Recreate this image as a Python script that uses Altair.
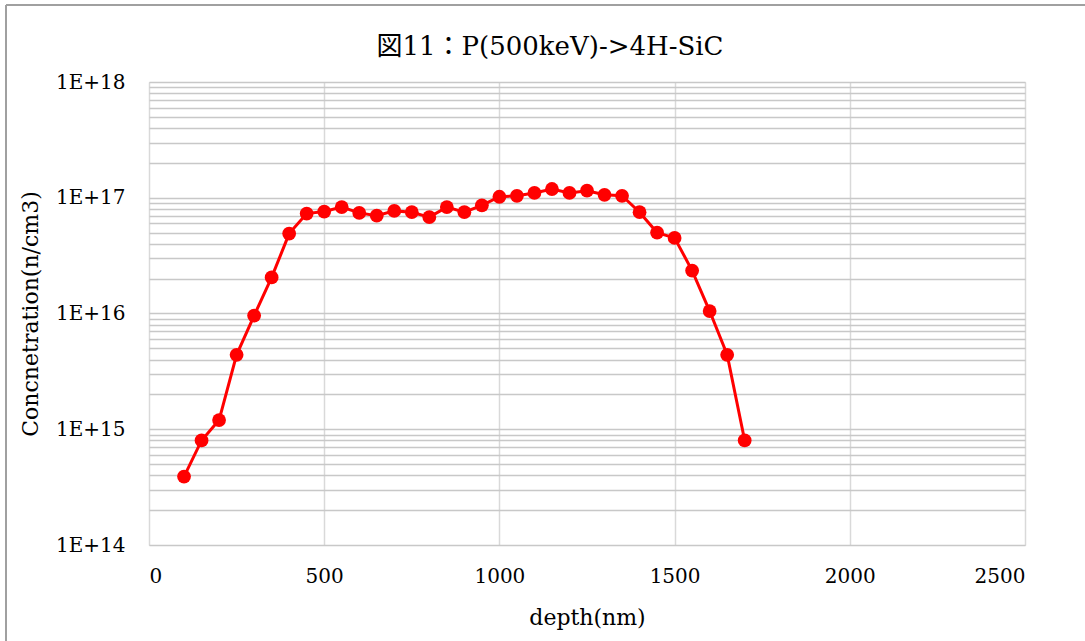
import altair as alt
import pandas as pd

# Implantation profile: P (500 keV) into 4H-SiC
depth_nm = [100, 150, 200, 250, 300, 350, 400, 450, 500, 550, 600, 650, 700,
            750, 800, 850, 900, 950, 1000, 1050, 1100, 1150, 1200, 1250, 1300,
            1350, 1400, 1450, 1500, 1550, 1600, 1650, 1700]
concentration = [3.9e14, 8.0e14, 1.2e15, 4.4e15, 9.6e15, 2.05e16, 4.9e16,
                 7.3e16, 7.6e16, 8.3e16, 7.4e16, 7.0e16, 7.7e16, 7.5e16,
                 6.8e16, 8.3e16, 7.5e16, 8.6e16, 1.02e17, 1.04e17, 1.1e17,
                 1.19e17, 1.1e17, 1.15e17, 1.06e17, 1.04e17, 7.5e16, 5.0e16,
                 4.5e16, 2.35e16, 1.05e16, 4.4e15, 8.0e14]

x_ticks = [0, 500, 1000, 1500, 2000, 2500]
decades = [14, 15, 16, 17, 18]
# 1..9 x 10^n gridlines for the log axis, labelled only at decades
y_grid = [m * 10.0 ** d for d in decades[:-1] for m in range(1, 10)] + [1e18]

title_text = "図11：P(500keV)->4H-SiC"

df = pd.DataFrame({"depth": depth_nm, "conc": concentration})

SERIF = "DejaVu Serif, Noto Sans CJK JP"
W, H = 876, 463
LEFT, TOP = 149, 82

x_enc = alt.X(
    "depth:Q",
    title="depth(nm)",
    scale=alt.Scale(domain=[0, 2500], nice=False),
    axis=alt.Axis(values=x_ticks, format="d", grid=True, gridColor="#d9d9d9",
                  gridWidth=1.5, ticks=False, domain=False,
                  labelFont=SERIF, labelFontSize=20, labelColor="#000",
                  labelPadding=21, titleFont=SERIF, titleFontSize=22,
                  titleFontWeight="normal", titleColor="#000",
                  titlePadding=21),
)
y_enc = alt.Y(
    "conc:Q",
    title="Concnetration(n/cm3)",
    scale=alt.Scale(type="log", domain=[1e14, 1e18], nice=False),
    axis=alt.Axis(values=y_grid, grid=True, gridColor="#c8c8c8",
                  gridWidth=1.5, ticks=False, domain=False,
                  labelExpr="abs(log(datum.value)/LN10 - round(log(datum.value)/LN10)) < 1e-6 ? '1E+' + round(log(datum.value)/LN10) : ''",
                  labelFont=SERIF, labelFontSize=20, labelColor="#000",
                  labelPadding=24, labelOverlap=False, titleFont=SERIF,
                  titleFontSize=22, titleFontWeight="normal",
                  titleColor="#000", titlePadding=13),
)

line = alt.Chart(df).mark_line(color="#ff0000", strokeWidth=3).encode(x=x_enc, y=y_enc)
pts = alt.Chart(df).mark_circle(color="#ff0000", opacity=1, size=190).encode(
    x="depth:Q", y="conc:Q")

one = pd.DataFrame({"label": [title_text]})

# chart title, centred over the chart area
title = alt.Chart(one).mark_text(
    font=SERIF, fontSize=26, color="#000", align="center", baseline="middle"
).encode(text="label:N", x=alt.value(550 - LEFT), y=alt.value(47 - TOP))

# light gray outer frame of the chart area (left and top edges)
frame_top = alt.Chart(one).mark_rule(color="#a0a0a0", strokeWidth=2).encode(
    x=alt.value(6 - LEFT), x2=alt.value(1085 - LEFT), y=alt.value(5 - TOP))
frame_left = alt.Chart(one).mark_rule(color="#a0a0a0", strokeWidth=2).encode(
    x=alt.value(6 - LEFT), y=alt.value(5 - TOP), y2=alt.value(641 - TOP))

chart = alt.layer(line, pts, title, frame_top, frame_left).properties(
    width=W, height=H,
    padding={"left": LEFT, "top": TOP, "right": 1085 - LEFT - W, "bottom": 641 - TOP - H},
    autosize=alt.AutoSizeParams(type="none"),
).configure_view(stroke="#000", strokeWidth=2).configure(background="white")

chart.save("out.html", embed_options={"renderer": "svg", "actions": False})
